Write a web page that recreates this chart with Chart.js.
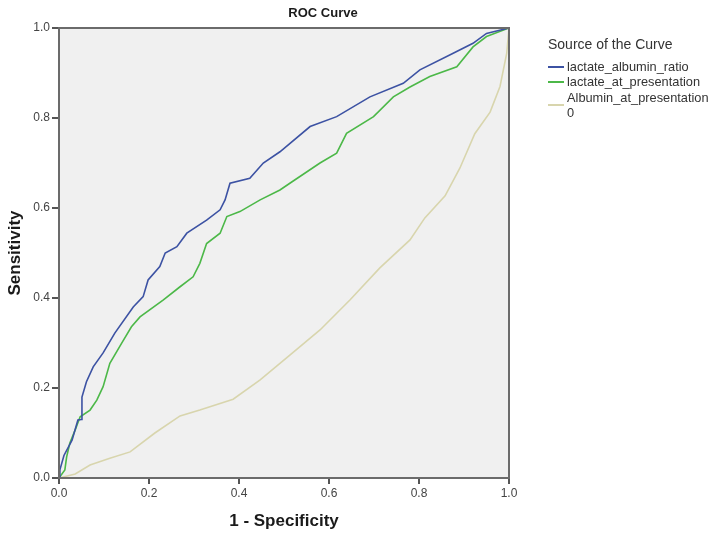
<!DOCTYPE html>
<html>
<head>
<meta charset="utf-8">
<script src="https://cdn.jsdelivr.net/npm/chart.js@4/dist/chart.umd.min.js"></script>
<style>
  html, body { margin: 0; padding: 0; background: #ffffff; }
  #wrap { position: relative; width: 708px; height: 537px; overflow: hidden; }
</style>
</head>
<body>
<div id="wrap"><canvas id="c" width="708" height="537"></canvas></div>
<script>
// ---- Data ----
const chartTitle = "ROC Curve";
const xAxisTitle = "1 - Specificity";
const yAxisTitle = "Sensitivity";
const legendTitle = "Source of the Curve";
const seriesNames = ["lactate_albumin_ratio", "lactate_at_presentation", ["Albumin_at_presentation", "0"]];
const tickValues = [0.0, 0.2, 0.4, 0.6, 0.8, 1.0];

const ratioFpr = [0, 0.002, 0.011, 0.029, 0.042, 0.050, 0.051, 0.061, 0.076, 0.098, 0.124, 0.165, 0.187, 0.198, 0.224, 0.236, 0.262, 0.284, 0.328, 0.358, 0.369, 0.380, 0.424, 0.454, 0.491, 0.558, 0.617, 0.691, 0.765, 0.802, 0.876, 0.920, 0.950, 1.0];
const ratioTpr = [0, 0.018, 0.050, 0.084, 0.129, 0.130, 0.180, 0.214, 0.247, 0.278, 0.322, 0.380, 0.403, 0.440, 0.470, 0.500, 0.514, 0.544, 0.573, 0.596, 0.618, 0.655, 0.666, 0.700, 0.725, 0.781, 0.803, 0.847, 0.877, 0.907, 0.944, 0.966, 0.988, 1.0];

const lactFpr = [0, 0.013, 0.017, 0.024, 0.036, 0.047, 0.069, 0.084, 0.098, 0.113, 0.139, 0.161, 0.180, 0.232, 0.269, 0.298, 0.313, 0.328, 0.358, 0.373, 0.402, 0.447, 0.491, 0.513, 0.580, 0.617, 0.639, 0.699, 0.743, 0.780, 0.824, 0.884, 0.920, 0.950, 1.0];
const lactTpr = [0, 0.018, 0.047, 0.077, 0.107, 0.136, 0.151, 0.173, 0.203, 0.255, 0.299, 0.336, 0.358, 0.396, 0.425, 0.447, 0.477, 0.521, 0.544, 0.581, 0.592, 0.618, 0.640, 0.655, 0.700, 0.722, 0.766, 0.803, 0.847, 0.869, 0.892, 0.914, 0.958, 0.981, 1.0];

const albFpr = [0, 0.036, 0.069, 0.113, 0.158, 0.213, 0.269, 0.313, 0.387, 0.447, 0.513, 0.580, 0.647, 0.713, 0.780, 0.813, 0.858, 0.891, 0.924, 0.958, 0.980, 0.995, 1.0];
const albTpr = [0, 0.009, 0.029, 0.044, 0.058, 0.100, 0.138, 0.151, 0.175, 0.218, 0.273, 0.329, 0.396, 0.467, 0.529, 0.578, 0.627, 0.689, 0.765, 0.813, 0.870, 0.944, 1.0];

const toPts = (xs, ys) => xs.map((x, i) => ({ x: x, y: ys[i] }));

const colors = ["#3c52a3", "#4cb848", "#d8d5ad"];

const bgPlugin = {
  id: 'bgframe',
  beforeDatasetsDraw(chart) {
    const a = chart.chartArea, ctx = chart.ctx;
    ctx.save();
    ctx.fillStyle = '#f0f0f0';
    ctx.fillRect(a.left, a.top, a.right - a.left, a.bottom - a.top);
    ctx.restore();
  },
  afterDatasetsDraw(chart) {
    const a = chart.chartArea, ctx = chart.ctx;
    ctx.save();
    ctx.strokeStyle = '#6b6b6b';
    ctx.lineWidth = 2;
    ctx.strokeRect(a.left, a.top, a.right - a.left, a.bottom - a.top);
    ctx.restore();
  },
  afterDraw(chart) {
    const ctx = chart.ctx;
    ctx.save();
    // main title
    ctx.fillStyle = '#1a1a1a';
    ctx.font = 'bold 13px "Liberation Sans", Arial, sans-serif';
    ctx.textAlign = 'center';
    ctx.textBaseline = 'middle';
    ctx.fillText(chartTitle, 323, 13);
    // legend
    ctx.textAlign = 'left';
    ctx.font = '14px "Liberation Sans", Arial, sans-serif';
    ctx.fillStyle = '#333333';
    ctx.fillText(legendTitle, 548, 45);
    ctx.font = '12.8px "Liberation Sans", Arial, sans-serif';
    const rows = [67, 82, 98];
    seriesNames.forEach((name, i) => {
      const lines = Array.isArray(name) ? name : [name];
      const y0 = rows[i];
      const sy = lines.length > 1 ? y0 + 7 : y0;
      ctx.strokeStyle = colors[i];
      ctx.lineWidth = 2;
      ctx.beginPath();
      ctx.moveTo(548, sy);
      ctx.lineTo(564, sy);
      ctx.stroke();
      ctx.fillStyle = '#333333';
      lines.forEach((t, k) => ctx.fillText(t, 567, y0 + k * 15));
    });
    ctx.restore();
  }
};

new Chart(document.getElementById('c'), {
  type: 'scatter',
  data: {
    datasets: [
      { label: "lactate_albumin_ratio", data: toPts(ratioFpr, ratioTpr), showLine: true, borderColor: colors[0], borderWidth: 1.6, pointRadius: 0, fill: false, order: 1 },
      { label: "lactate_at_presentation", data: toPts(lactFpr, lactTpr), showLine: true, borderColor: colors[1], borderWidth: 1.6, pointRadius: 0, fill: false, order: 2 },
      { label: "Albumin_at_presentation", data: toPts(albFpr, albTpr), showLine: true, borderColor: colors[2], borderWidth: 1.6, pointRadius: 0, fill: false, order: 3 }
    ]
  },
  options: {
    responsive: false,
    animation: false,
    layout: { padding: { top: 28, right: 199, left: 0, bottom: 0 } },
    plugins: {
      legend: { display: false },
      title: { display: false },
      tooltip: { enabled: false }
    },
    scales: {
      x: {
        type: 'linear', min: 0, max: 1,
        afterBuildTicks(s) { s.ticks = tickValues.map(v => ({ value: v })); },
        afterFit(s) { s.height = 59; },
        grid: { display: true, drawOnChartArea: false, drawTicks: true, tickLength: 6, color: '#555555', lineWidth: 2 },
        border: { display: true, color: '#555555', width: 2 },
        ticks: { padding: 2, color: '#444444', font: { family: '"Liberation Sans", Arial, sans-serif', size: 12 }, callback: v => Number(v).toFixed(1), maxRotation: 0 },
        title: { display: true, text: xAxisTitle, color: '#1a1a1a', font: { family: '"Liberation Sans", Arial, sans-serif', size: 17, weight: 'bold' }, padding: { top: 5, bottom: 5 } }
      },
      y: {
        type: 'linear', min: 0, max: 1,
        afterBuildTicks(s) { s.ticks = tickValues.map(v => ({ value: v })); },
        afterFit(s) { s.width = 59; },
        grid: { display: true, drawOnChartArea: false, drawTicks: true, tickLength: 7, color: '#555555', lineWidth: 2 },
        border: { display: true, color: '#555555', width: 2 },
        ticks: { padding: 2, color: '#444444', font: { family: '"Liberation Sans", Arial, sans-serif', size: 12 }, callback: v => Number(v).toFixed(1) },
        title: { display: true, text: yAxisTitle, color: '#1a1a1a', font: { family: '"Liberation Sans", Arial, sans-serif', size: 17, weight: 'bold' }, padding: { top: 5, bottom: 5 } }
      }
    }
  },
  plugins: [bgPlugin]
});
</script>
</body>
</html>
